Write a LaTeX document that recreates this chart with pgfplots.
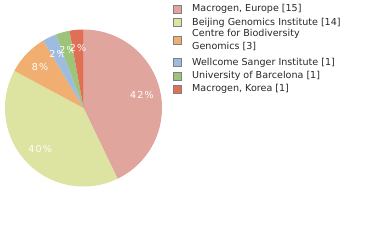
\documentclass[border=0pt]{standalone}
\usepackage{pgfplots}
\pgfplotsset{compat=1.18}
\usepackage{fontspec}
\setmainfont{DejaVu Sans}
\definecolor{c1}{RGB}{224,165,157}
\definecolor{c2}{RGB}{221,227,160}
\definecolor{c3}{RGB}{240,174,112}
\definecolor{c4}{RGB}{157,188,224}
\definecolor{c5}{RGB}{157,196,122}
\definecolor{c6}{RGB}{224,112,85}
\definecolor{legtext}{RGB}{40,40,40}
% counts: Macrogen Europe 15, Beijing 14, Centre 3, Wellcome 1, Barcelona 1, Macrogen Korea 1 (total 35)
\newcommand\pieslice[4]{%
  \pgfmathsetmacro\angA{90-360*#1/35}%
  \pgfmathsetmacro\angB{90-360*(#1+#2)/35}%
  \pgfmathsetmacro\angM{(\angA+\angB)/2}%
  \pgfmathsetmacro\lx{83.5+60*cos(\angM)}%
  \pgfmathsetmacro\ly{132+60*sin(\angM)}%
  \edef\temp{\noexpand\addplot[fill=#3, draw=none, domain=\angB:\angA, samples=90] ({83.5+78.5*cos(x)},{132+78.5*sin(x)}) -- (axis cs:83.5,132) -- cycle;}%
  \temp
  \edef\temp{\noexpand\node[text=white, inner sep=0pt, font=\noexpand\fontsize{9.6}{9.6}\noexpand\selectfont\noexpand\addfontfeatures{LetterSpace=12}] at (axis cs:\lx,\ly) {#4\noexpand\%};}%
  \temp
}
\newcommand\legentry[3]{% y(px), color, text
  \edef\temp{\noexpand\fill[#2, draw=gray, line width=0.9bp] (axis cs:173.5,{240-#1-4}) rectangle (axis cs:181.5,{240-#1+4});}%
  \temp
  \node[anchor=west, inner sep=0pt, text=legtext, align=left, font=\fontsize{9.6}{13.3}\selectfont] at (axis cs:192,{240-#1}) {#3};
}
\begin{document}
\begin{tikzpicture}
\begin{axis}[scale only axis, width=380bp, height=240bp, xmin=0, xmax=380, ymin=0, ymax=240,
  hide axis, clip=false, at={(0,0)}, anchor=south west]
\pieslice{0}{15}{c1}{42}
\pieslice{15}{14}{c2}{40}
\pieslice{29}{3}{c3}{8}
\pieslice{32}{1}{c4}{2}
\pieslice{33}{1}{c5}{2}
\pieslice{34}{1}{c6}{2}
\legentry{9.3}{c1}{Macrogen, Europe [15]}
\legentry{22.7}{c2}{Beijing Genomics Institute [14]}
\legentry{40.3}{c3}{Centre for Biodiversity\\Genomics [3]}
\legentry{62.5}{c4}{Wellcome Sanger Institute [1]}
\legentry{76}{c5}{University of Barcelona [1]}
\legentry{89.3}{c6}{Macrogen, Korea [1]}
\end{axis}
\pgfresetboundingbox
\path (0,0) rectangle (380bp,240bp);
\end{tikzpicture}
\end{document}
